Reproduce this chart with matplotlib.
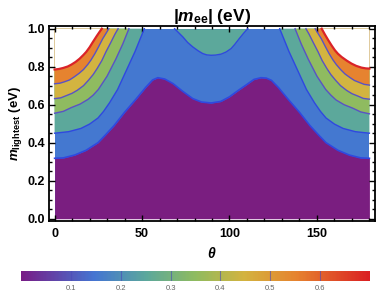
import numpy as np
import matplotlib.pyplot as plt
from matplotlib.colors import LinearSegmentedColormap, Normalize
from matplotlib.cm import ScalarMappable
from matplotlib.ticker import MultipleLocator

plt.rcParams['font.family'] = ['Liberation Sans', 'DejaVu Sans']
plt.rcParams['mathtext.fontset'] = 'custom'
plt.rcParams['mathtext.it'] = 'Liberation Sans:italic:bold'
plt.rcParams['mathtext.rm'] = 'Liberation Sans:bold'
plt.rcParams['mathtext.bf'] = 'Liberation Sans:bold'

# contorno 0.1 (frontera morada / azul), recorre todo theta
l1_theta = [0, 5, 11.5, 18, 24.8, 29, 34, 40, 46.6, 52, 56, 59, 63, 67.7, 73, 79, 84, 89.5,
            95, 99.9, 105, 109.4, 114, 118, 121, 124, 128, 133.4, 140, 146, 151, 155.2, 162, 168.5, 175, 180]
l1_m = [0.318, 0.32, 0.335, 0.36, 0.40, 0.44, 0.49, 0.56, 0.63, 0.69, 0.73, 0.742, 0.735, 0.711, 0.672, 0.632, 0.614, 0.609,
        0.617, 0.641, 0.675, 0.703, 0.733, 0.742, 0.74, 0.728, 0.69, 0.63, 0.56, 0.49, 0.44, 0.40, 0.36, 0.335, 0.32, 0.318]

# contorno 0.2 central (zona verde arriba)
c2_theta = [68.6, 71, 73.4, 76, 79, 82, 84.7, 87, 89.5, 92, 95.2, 98, 100.9, 103, 105.6, 108, 110.4]
c2_m = [1.0, 0.978, 0.956, 0.928, 0.904, 0.884, 0.869, 0.862, 0.86, 0.861, 0.866, 0.877, 0.895, 0.917, 0.948, 0.975, 1.0]

# contornos izquierdos: 0.2, 0.3, 0.4, 0.5 y borde (0.6)
l2_theta = [0, 8, 15, 20, 24.8, 28, 31.4, 36, 41, 46, 51.3]
l2_m = [0.45, 0.458, 0.475, 0.498, 0.53, 0.565, 0.61, 0.68, 0.78, 0.88, 1.0]
l3_theta = [0, 5, 9.6, 14.5, 19.1, 22, 25, 30, 35, 39, 42.5]
l3_m = [0.555, 0.565, 0.585, 0.603, 0.628, 0.65, 0.68, 0.75, 0.84, 0.92, 1.0]
l4_theta = [0, 3.5, 6.5, 10, 13, 16.5, 19.3, 22, 24.3, 27, 29.4, 32, 34.5, 36.3]
l4_m = [0.632, 0.636, 0.647, 0.66, 0.676, 0.7, 0.728, 0.758, 0.79, 0.832, 0.879, 0.925, 0.971, 1.0]
l5_theta = [0, 3, 5.5, 8.5, 11, 14, 16.5, 19, 20.8, 23, 25.1, 27.5, 29.5, 31]
l5_m = [0.71, 0.713, 0.72, 0.73, 0.745, 0.765, 0.785, 0.812, 0.835, 0.868, 0.904, 0.947, 0.977, 1.0]
edge_theta = [0, 2.5, 4.8, 7.5, 9.6, 12, 14.3, 16.5, 18.1, 20, 21.9, 24, 25.7, 27]
edge_m = [0.785, 0.788, 0.793, 0.801, 0.811, 0.825, 0.842, 0.862, 0.878, 0.902, 0.930, 0.96, 0.983, 1.0]

# contornos derechos
r2_theta = [180, 172, 165, 160, 155.2, 152, 148.6, 144, 139, 134, 128.7]
r2_m = [0.45, 0.458, 0.475, 0.498, 0.53, 0.565, 0.61, 0.68, 0.78, 0.88, 1.0]
r3_theta = [180, 175, 170.4, 165.5, 160.9, 158, 155, 150, 145, 141, 137.5]
r3_m = [0.552, 0.562, 0.582, 0.6, 0.625, 0.65, 0.68, 0.75, 0.84, 0.92, 1.0]
r4_theta = [180, 176.5, 173.5, 170, 167, 163.5, 160.7, 158, 155.7, 153, 150.6, 148, 145.5, 143.7]
r4_m = [0.629, 0.633, 0.645, 0.658, 0.675, 0.7, 0.728, 0.758, 0.79, 0.832, 0.879, 0.925, 0.971, 1.0]
r5_theta = [180, 177, 174.5, 171.5, 169, 166, 163.5, 161, 159.2, 157, 154.9, 152.5, 150.5, 149]
r5_m = [0.703, 0.707, 0.716, 0.727, 0.742, 0.762, 0.785, 0.812, 0.835, 0.868, 0.904, 0.947, 0.977, 1.0]
redge_theta = [180, 178, 175.5, 172.5, 169.8, 167, 164.1, 162, 160.3, 158.5, 156.5, 154.5, 152.7]
redge_m = [0.790, 0.791, 0.795, 0.804, 0.816, 0.832, 0.851, 0.868, 0.886, 0.91, 0.939, 0.97, 1.0]

cb_ticks = [0.1, 0.2, 0.3, 0.4, 0.5, 0.6]

# colores de las bandas
c_pur = '#7a1e80'
c_blu = '#4478d0'
c_tea = '#5ca89b'
c_grn = '#8fbb60'
c_yel = '#d3b440'
c_ora = '#e6832f'
c_red = '#da2328'

fig = plt.figure(figsize=(3.82, 3.0), dpi=100)
ax = fig.add_axes([0.1283, 0.2633, 0.8534, 0.65])

ax.fill_between([0, 180], 0, 1, color=c_blu, lw=0)
ax.fill_between(l1_theta, 0, l1_m, color=c_pur, lw=0)
ax.fill_between(c2_theta, c2_m, 1, color=c_tea, lw=0)

lados = [
    (0, [l2_theta, l3_theta, l4_theta, l5_theta, edge_theta], [l2_m, l3_m, l4_m, l5_m, edge_m]),
    (180, [r2_theta, r3_theta, r4_theta, r5_theta, redge_theta], [r2_m, r3_m, r4_m, r5_m, redge_m]),
]
for x0, ths, ms in lados:
    for th, m, col in zip(ths, ms, [c_tea, c_grn, c_yel, c_ora, 'white']):
        ax.fill(list(th) + [x0], list(m) + [1.0], color=col, lw=0)

linea_azul = '#2f48e0'
linea_mor = '#5a52c4'
ax.plot(l1_theta, l1_m, color=linea_azul, lw=1.2)
ax.plot(c2_theta, c2_m, color=linea_azul, lw=1.0)
for x0, ths, ms in lados:
    ax.plot(ths[0], ms[0], color=linea_azul, lw=1.0)
    for th, m in zip(ths[1:4], ms[1:4]):
        ax.plot(th, m, color=linea_mor, lw=1.0)
    ax.plot(ths[4], ms[4], color=c_red, lw=1.6)

ax.set_xlim(-3.2, 183.2)
ax.set_ylim(-0.012, 1.014)
ax.xaxis.set_major_locator(MultipleLocator(50))
ax.xaxis.set_minor_locator(MultipleLocator(10))
ax.yaxis.set_major_locator(MultipleLocator(0.2))
ax.yaxis.set_minor_locator(MultipleLocator(0.05))
ax.set_yticks([0, 0.2, 0.4, 0.6, 0.8, 1.0])
ax.set_yticklabels(['0.0', '0.2', '0.4', '0.6', '0.8', '1.0'])
ax.tick_params(which='both', direction='in', top=True, right=True, width=1.0)
ax.tick_params(which='major', length=4, labelsize=9, pad=3)
ax.tick_params(axis='x', which='major', pad=5)
ax.tick_params(which='minor', length=2)
for lab in ax.get_xticklabels() + ax.get_yticklabels():
    lab.set_fontweight('bold')
for s in ax.spines.values():
    s.set_linewidth(1.3)

ax.set_title(r'$|m_{\rm ee}|$ (eV)', fontsize=12.5, fontweight='bold', pad=3)
ax.set_xlabel(r'$\theta$', fontsize=10, labelpad=4)
ax.set_ylabel(r'$m_{\rm lightest}$ (eV)', fontsize=9.5, fontweight='bold', labelpad=2)

# barra de color
anclas = [(0.0, '#781c86'), (0.21, '#4475d2'), (0.36, '#5ca89b'), (0.5, '#8fbb5f'),
          (0.64, '#d3b33f'), (0.79, '#e6832f'), (1.0, '#da1f22')]
cmap = LinearSegmentedColormap.from_list('rainbow_mma', anclas)
cax = fig.add_axes([0.055, 0.0633, 0.9136, 0.0343])
cb = fig.colorbar(ScalarMappable(norm=Normalize(0, 0.7), cmap=cmap), cax=cax,
                  orientation='horizontal', ticks=cb_ticks)
cb.outline.set_visible(False)
cb.ax.tick_params(length=0, labelsize=5.5, colors='#666666', pad=3)
cb.ax.set_xticklabels(['0.1', '0.2', '0.3', '0.4', '0.5', '0.6'])
for t in cb_ticks:
    cax.axvline(t, color='#4a4ab8', lw=0.8, alpha=0.6)

fig.savefig('out.png', dpi=100)
